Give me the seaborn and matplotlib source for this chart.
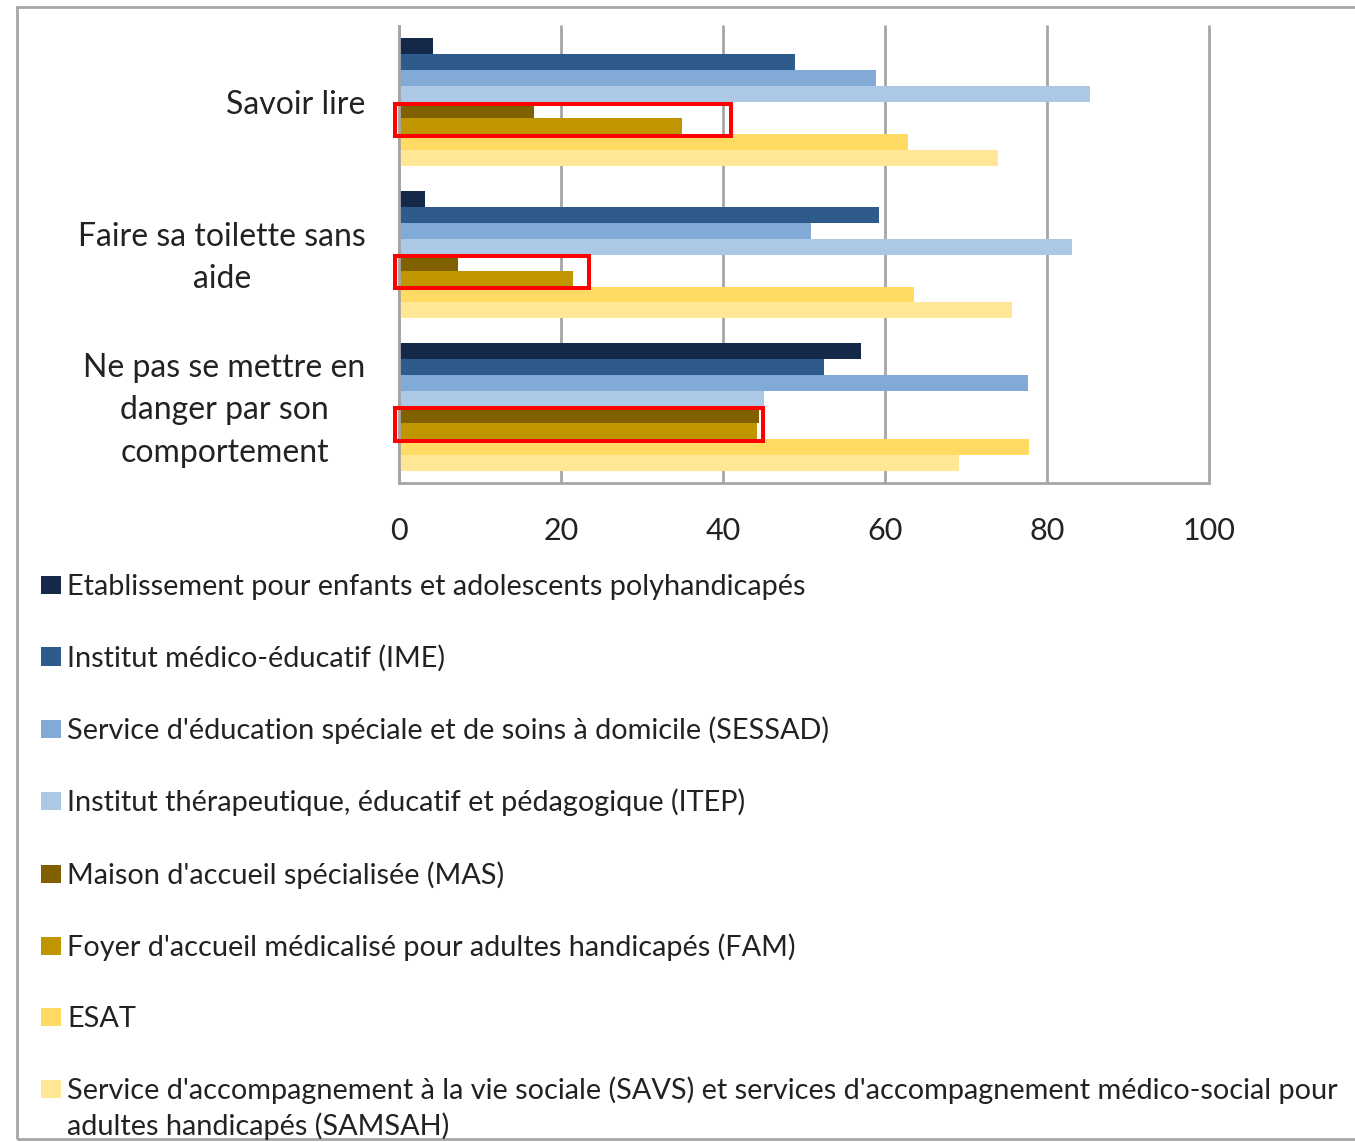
import pandas as pd
import seaborn as sns
import matplotlib.pyplot as plt
from matplotlib.patches import Rectangle
from matplotlib.transforms import ScaledTranslation

# Data (percent)
items = ['Savoir lire', 'Faire sa toilette sans\naide', 'Ne pas se mettre en\ndanger par son\ncomportement']
types = ['Etablissement pour enfants et adolescents polyhandicapés',
         'Institut médico-éducatif (IME)',
         "Service d'éducation spéciale et de soins à domicile (SESSAD)",
         'Institut thérapeutique, éducatif et pédagogique (ITEP)',
         "Maison d'accueil spécialisée (MAS)",
         "Foyer d'accueil médicalisé pour adultes handicapés (FAM)",
         'ESAT',
         "Service d'accompagnement à la vie sociale (SAVS) et services d'accompagnement médico-social pour\nadultes handicapés (SAMSAH)"]
polyhandicap = [4.2, 3.2, 57.0]
ime = [48.9, 59.3, 52.5]
sessad = [58.9, 50.9, 77.6]
itep = [85.3, 83.1, 45.1]
mas = [16.7, 7.3, 44.5]
fam = [34.9, 21.5, 44.2]
esat = [62.8, 63.6, 77.8]
savs = [73.9, 75.7, 69.1]
colors = ['#14284a', '#2e5b8c', '#81abd6', '#adc8e5', '#806000', '#bf9600', '#ffdb63', '#ffe796']
# red highlight boxes around MAS/FAM bars: right edge of each box
box_right = [40.95, 23.4, 44.9]

series = [polyhandicap, ime, sessad, itep, mas, fam, esat, savs]
rows = []
for t, vals in zip(types, series):
    for it, v in zip(items, vals):
        rows.append({'item': it, 'type': t, 'value': v})
df = pd.DataFrame(rows)

sns.set_style('white')
plt.rcParams['font.family'] = ['Lato', 'DejaVu Sans']

fig = plt.figure(figsize=(13.55, 11.42), dpi=100)
ax = fig.add_axes([399/1355, 1-483.3/1142, 810/1355, 457.3/1142])

sns.barplot(data=df, x='value', y='item', hue='type', order=items, hue_order=types,
            palette=colors, saturation=1, width=0.836, gap=0, linewidth=0,
            orient='h', ax=ax, legend=True)

ax.set_xlim(0, 100)
ax.set_ylim(2.5, -0.5)
ax.set_xticks([0, 20, 40, 60, 80, 100])
ax.set_xlabel('')
ax.set_ylabel('')
ax.xaxis.grid(True, color='#a6a6a6', linewidth=2)
for gl in ax.get_xgridlines():
    gl.set_clip_on(False)
ax.set_axisbelow(True)
for s in ['top', 'right']:
    ax.spines[s].set_visible(False)
for s in ['left', 'bottom']:
    ax.spines[s].set_color('#a6a6a6')
    ax.spines[s].set_linewidth(2)
ax.tick_params(axis='x', length=0, labelsize=22, colors='#222222', pad=24)
ax.tick_params(axis='y', length=0, labelsize=23, colors='#222222', pad=24)
for lab in ax.get_yticklabels():
    lab.set_multialignment('center')
    lab.set_linespacing(1.52)
    if '\n' in lab.get_text():
        # multi-line labels sit a little higher in the original
        lab.set_transform(lab.get_transform() + ScaledTranslation(0, 6/100, fig.dpi_scale_trans))

# red highlight boxes around MAS and FAM bars
bar_h = 0.836 / len(types)
for i, r in enumerate(box_right):
    y0 = i - 0.418 + 4 * bar_h
    ax.add_patch(Rectangle((-0.45, y0 + 0.009), r + 0.45, 2 * bar_h + 0.002,
                           fill=False, edgecolor='#ff0000', linewidth=2.9,
                           clip_on=False, zorder=5))

handles, labels = ax.get_legend_handles_labels()
ax.get_legend().remove()
leg = fig.legend(handles, labels, loc='upper left', bbox_to_anchor=(41/1355, 1-574/1142),
                 frameon=False, fontsize=20.8, handlelength=0.69, handleheight=0.59,
                 handletextpad=0.21, labelspacing=1.55, borderpad=0, borderaxespad=0)
for t in leg.get_texts():
    t.set_color('#222222')
    t.set_linespacing(1.37)
# put the last handle on the first line of its two-line label
last = leg.legend_handles[-1]
last.set_y(last.get_y() + 14)

# outer frame
fig.patches.append(Rectangle((17/1355, 1-1139/1142), 1.05, (1139-7)/1142, fill=False,
                             edgecolor='#a6a6a6', linewidth=2, transform=fig.transFigure))

plt.savefig('out.png', dpi=100)
